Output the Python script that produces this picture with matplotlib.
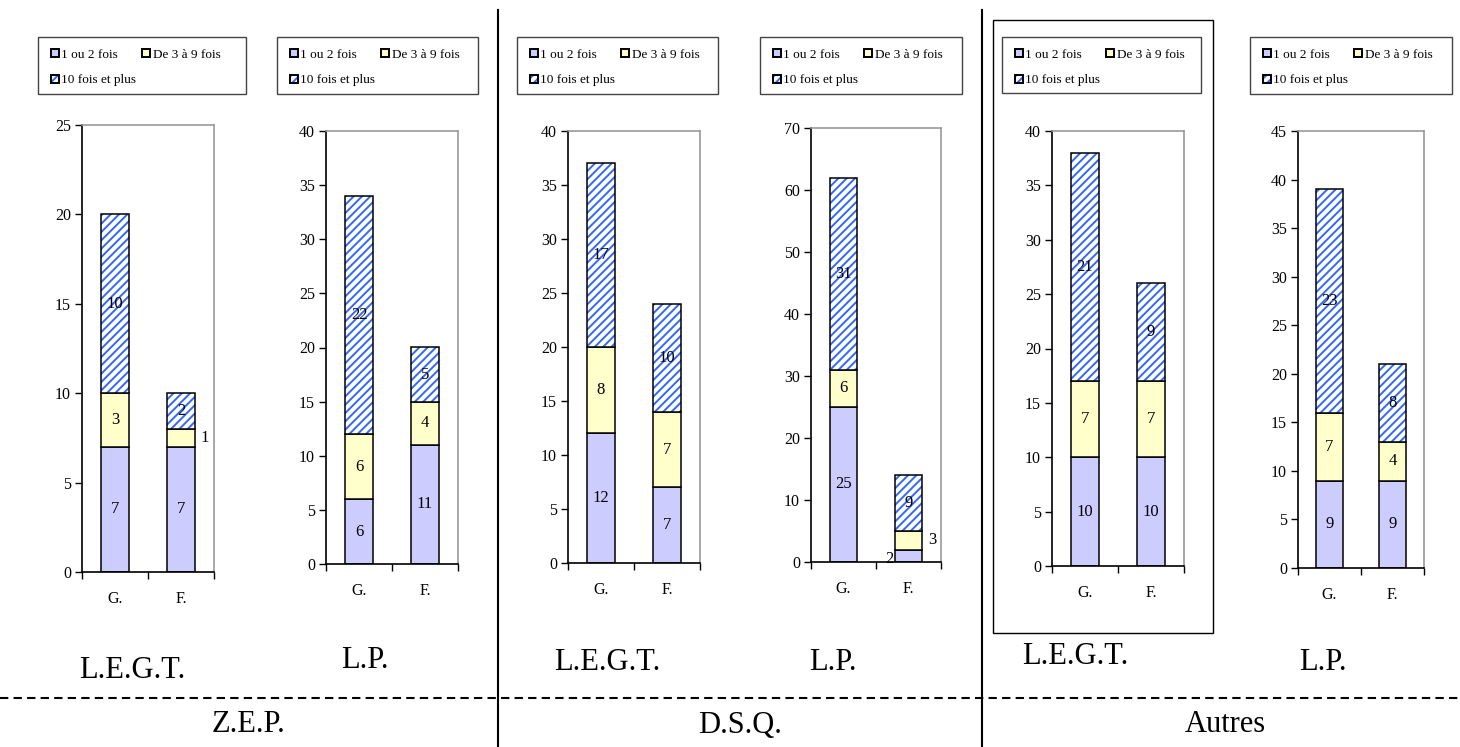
import matplotlib.pyplot as plt
from matplotlib.patches import Patch, Rectangle
from matplotlib.lines import Line2D

plt.rcParams['font.family'] = ['Liberation Serif', 'DejaVu Serif']
plt.rcParams['hatch.linewidth'] = 1.4

# Counts per panel: Z.E.P. LEGT, Z.E.P. LP, D.S.Q. LEGT, D.S.Q. LP, Autres LEGT, Autres LP
# each inner list is [G., F.]
groups = ['Z.E.P.', 'D.S.Q.', 'Autres']
schools = ['L.E.G.T.', 'L.P.', 'L.E.G.T.', 'L.P.', 'L.E.G.T.', 'L.P.']
sexes = ['G.', 'F.']
series_names = ['1 ou 2 fois', 'De 3 à 9 fois', '10 fois et plus']
one_two = [[7, 7], [6, 11], [12, 7], [25, 2], [10, 10], [9, 9]]
three_nine = [[3, 1], [6, 4], [8, 7], [6, 3], [7, 7], [7, 4]]
ten_plus = [[10, 2], [22, 5], [17, 10], [31, 9], [21, 9], [23, 8]]
y_max = [25, 40, 40, 70, 40, 45]
y_step = [5, 5, 5, 10, 5, 5]

# labels that sit beside the bar: (panel, bar, segment) -> side
outside = {(0, 1, 1): 'right', (3, 1, 0): 'left', (3, 1, 1): 'right'}

W, H = 1460, 747
fig = plt.figure(figsize=(W / 100, H / 100), dpi=100)


def fx(x):
    return x / W


def fy(y):
    return 1 - y / H


# axes boxes in pixels: left, top, right, bottom
ax_px = [(82, 125, 214, 572), (326, 131, 458, 564), (568, 131, 700, 563),
         (811, 128, 941, 562), (1052, 131, 1184, 566), (1298, 131, 1424, 568)]
legend_px = [(38, 37, 246, 94), (277, 37, 478, 94), (517, 37, 718, 94),
             (760, 37, 962, 94), (1002, 37, 1201, 93), (1250, 37, 1452, 94)]
school_pos = [(132, 671), (365, 660), (607, 662), (833, 662), (1075, 657), (1323, 662)]
group_pos = [(248, 724), (740, 726), (1225, 724)]

c_low = '#ccccff'
c_mid = '#ffffcc'
c_hatch = '#3366ff'
bar_w = 0.42

for i, (l, t, r, b) in enumerate(ax_px):
    ax = fig.add_axes([fx(l), fy(b), fx(r) - fx(l), fy(t) - fy(b)])
    xs = range(len(sexes))
    low = one_two[i]
    mid = three_nine[i]
    high = ten_plus[i]
    base_mid = low
    base_high = [a + c for a, c in zip(low, mid)]

    ax.bar(xs, low, bar_w, color=c_low, edgecolor='black', linewidth=1.1, zorder=2)
    ax.bar(xs, mid, bar_w, bottom=base_mid, color=c_mid, edgecolor='black',
           linewidth=1.1, zorder=2)
    ax.bar(xs, high, bar_w, bottom=base_high, color='white', edgecolor=c_hatch,
           hatch='////', linewidth=0, zorder=2)
    ax.bar(xs, high, bar_w, bottom=base_high, color='none', edgecolor='black',
           linewidth=1.1, zorder=3)

    for j in xs:
        segs = [(0, low[j]), (low[j], mid[j]), (base_high[j], high[j])]
        for k, (b0, h) in enumerate(segs):
            yc = b0 + h / 2
            side = outside.get((i, j, k))
            if side == 'right':
                ax.annotate(str(h), (j + bar_w / 2, yc), xytext=(4, 0),
                            textcoords='offset points', ha='left', va='center',
                            fontsize=12, zorder=4)
            elif side == 'left':
                ax.annotate(str(h), (j - bar_w / 2, yc), xytext=(-1, -2),
                            textcoords='offset points', ha='right', va='center',
                            fontsize=12, zorder=4)
            else:
                ax.text(j, yc, str(h), ha='center', va='center', fontsize=12,
                        zorder=4)

    ax.set_xlim(-0.5, 1.5)
    ax.set_ylim(0, y_max[i])
    ax.set_yticks(range(0, y_max[i] + 1, y_step[i]))
    ax.set_xticks([-0.5, 0.5, 1.5])
    ax.set_xticklabels([])
    ax.set_xticks([0, 1], minor=True)
    ax.set_xticklabels(sexes, minor=True)
    ax.tick_params(axis='x', which='major', direction='out', length=5, width=1)
    ax.tick_params(axis='x', which='minor', length=0, pad=14, labelsize=11.5)
    ax.tick_params(axis='y', direction='out', length=5, width=1, labelsize=11.5, pad=3)
    for s in ['left', 'bottom']:
        ax.spines[s].set_color('black')
        ax.spines[s].set_linewidth(1.2)
    for s in ['top', 'right']:
        ax.spines[s].set_color('#999999')
        ax.spines[s].set_linewidth(1.2)

    # legend box with the three categories
    bl, bt, br, bb = legend_px[i]
    fig.patches.append(Rectangle((fx(bl), fy(bb)), fx(br) - fx(bl), fy(bt) - fy(bb),
                                 transform=fig.transFigure, facecolor='white',
                                 edgecolor='#444444', linewidth=1.0))
    h_low = Patch(facecolor=c_low, edgecolor='black', linewidth=1.4)
    h_mid = Patch(facecolor=c_mid, edgecolor='black', linewidth=1.4)
    h_high = (Patch(facecolor='white', edgecolor=c_hatch, hatch='////', linewidth=0),
              Patch(facecolor='none', edgecolor='black', linewidth=1.4))
    fig.legend([h_low, h_high, h_mid],
               [series_names[0], series_names[2], series_names[1]],
               ncol=2, loc='upper left',
               bbox_to_anchor=(fx(bl + 6), fy(bt + 5)),
               frameon=False, fontsize=9.5, borderpad=0,
               handlelength=0.6, handleheight=0.6, handletextpad=0.2,
               columnspacing=0.45, labelspacing=1.05)

    sx, sy = school_pos[i]
    fig.text(fx(sx), fy(sy), schools[i], ha='center', va='center', fontsize=22)

for name, (gx, gy) in zip(groups, group_pos):
    fig.text(fx(gx), fy(gy), name, ha='center', va='center', fontsize=22)

# separators between the three groups
for x in [498, 982]:
    fig.add_artist(Line2D([fx(x), fx(x)], [fy(10), fy(747)], color='black',
                          linewidth=1.5, transform=fig.transFigure))
fig.add_artist(Line2D([0, 1], [fy(698), fy(698)], color='black', linewidth=1.5,
                      linestyle=(0, (4, 2.5)), transform=fig.transFigure))
fig.add_artist(Rectangle((fx(993), fy(633)), fx(1213) - fx(993), fy(20) - fy(633),
                         transform=fig.transFigure, facecolor='none',
                         edgecolor='black', linewidth=1.0))

fig.savefig('out.png', dpi=100)
